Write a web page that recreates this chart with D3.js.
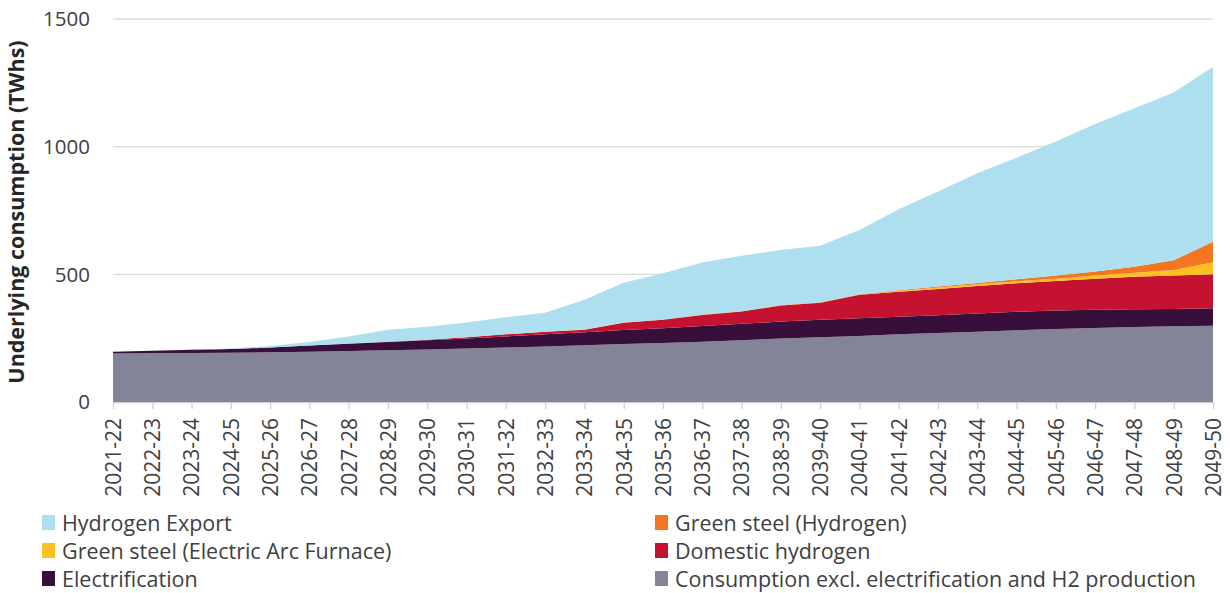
<!DOCTYPE html>
<html>
<head>
<meta charset="utf-8">
<script src="https://cdn.jsdelivr.net/npm/d3@7"></script>
<style>
  body { margin: 0; background: #fff; }
  text { font-family: "Open Sans", "Noto Sans", sans-serif; fill: #404040; }
</style>
</head>
<body>
<div class="container"></div>
<script>
// financial years on the x axis
var years = ["2021-22","2022-23","2023-24","2024-25","2025-26","2026-27","2027-28","2028-29","2029-30","2030-31",
             "2031-32","2032-33","2033-34","2034-35","2035-36","2036-37","2037-38","2038-39","2039-40","2040-41",
             "2041-42","2042-43","2043-44","2044-45","2045-46","2046-47","2047-48","2048-49","2049-50"];

// TWh
var baseCons      = [190,191,192,193,195,197,200,203,206,210,213,217,222,227,231,236,242,249,254,258,265,270,275,281,286,290,294,297,299];
var electrif      = [7,10,13,15,18,24,28,32,36,39,44,48,51,55,58,62,64,66,68,70,69,70,72,72,72,71,69,67,68];
var domesticH2    = [0,0,0,0,0,0.5,1,1,2,5,8,10,10,28,33,43,48,63,67,92,98,103,107,112,116,122,128,131,133];
var steelEAF      = [0,0,0,0,0,0,0,0,0,0,0,0,0.5,0.5,0.5,0.5,0.5,0.5,0.5,1,3,5,7,8,9,12,15,22,47];
var steelH2       = [0,0,0,0,0,0,0,0,0,0,0,0,0.5,1,1,1,1,1,1,1,3,4,5,8,12,16,24,38,81];
var h2Export      = [0,0,0,2,6,13,28,47,51,57,67,75,116,156,181,204,217,216,221,252,317,372,430,476,525,578,620,657,685];

var yTicks = [0, 500, 1000, 1500];

var keys = ["base","elec","dom","eaf","h2steel","export"];
var colors = {
  base: "#838498",
  elec: "#380e3b",
  dom: "#c41230",
  eaf: "#fdc020",
  h2steel: "#f37621",
  "export": "#addfee"
};
var legendItems = [
  {key:"export", label:"Hydrogen Export"},
  {key:"h2steel", label:"Green steel (Hydrogen)"},
  {key:"eaf", label:"Green steel (Electric Arc Furnace)"},
  {key:"dom", label:"Domestic hydrogen"},
  {key:"elec", label:"Electrification"},
  {key:"base", label:"Consumption excl. electrification and H2 production"}
];

var rows = years.map(function(y, i) {
  return {year: y, base: baseCons[i], elec: electrif[i], dom: domesticH2[i],
          eaf: steelEAF[i], h2steel: steelH2[i], "export": h2Export[i]};
});

var W = 1230, H = 593;
var plotLeft = 113, plotRight = 1213, plotTop = 19, plotBottom = 402;

var svg = d3.select(".container").append("svg")
  .attr("width", W).attr("height", H);

var x = d3.scalePoint().domain(years).range([plotLeft, plotRight]);
var y = d3.scaleLinear().domain([0, 1500]).range([plotBottom, plotTop]);

// gridlines
svg.append("g")
  .selectAll("line")
  .data(yTicks.filter(function(d){ return d > 0; }))
  .enter().append("line")
  .attr("x1", plotLeft).attr("x2", plotRight)
  .attr("y1", function(d){ return y(d); })
  .attr("y2", function(d){ return y(d); })
  .attr("stroke", "#d9d9d9")
  .attr("stroke-width", 1.3);

// x axis (drawn under the areas)
var xAxis = svg.append("g")
  .attr("transform", "translate(0," + plotBottom + ")")
  .call(d3.axisBottom(x).tickSizeOuter(0).tickSizeInner(7).tickPadding(8));
xAxis.select(".domain").attr("stroke", "#d0d0d0").attr("stroke-width", 1.3);
xAxis.selectAll(".tick line").attr("stroke", "#d0d0d0").attr("stroke-width", 1.3);
xAxis.selectAll(".tick text")
  .attr("transform", "rotate(-90)")
  .attr("text-anchor", "end")
  .attr("x", -16)
  .attr("y", 0)
  .attr("dy", "0.35em")
  .style("font-size", "21px")
  .style("font-family", "'Open Sans', sans-serif")
  .attr("fill", "#404040");

// stacked areas
var series = d3.stack().keys(keys)(rows);
var area = d3.area()
  .x(function(d){ return x(d.data.year); })
  .y0(function(d){ return y(d[0]); })
  .y1(function(d){ return y(d[1]); });

svg.append("g")
  .selectAll("path")
  .data(series)
  .enter().append("path")
  .attr("d", area)
  .attr("fill", function(d){ return colors[d.key]; });

// y axis labels
svg.append("g")
  .selectAll("text")
  .data(yTicks)
  .enter().append("text")
  .attr("x", 90)
  .attr("y", function(d){ return y(d); })
  .attr("dy", "0.35em")
  .attr("text-anchor", "end")
  .style("font-size", "20.5px")
  .text(function(d){ return d; });

// y title
svg.append("text")
  .attr("transform", "translate(24," + 212 + ") rotate(-90)")
  .attr("text-anchor", "middle")
  .style("font-size", "21.5px")
  .style("font-weight", "bold")
  .style("fill", "#262626")
  .text("Underlying consumption (TWhs)");

// legend
var leg = svg.append("g").selectAll("g")
  .data(legendItems)
  .enter().append("g")
  .attr("transform", function(d, i) {
    var col = i % 2, row = Math.floor(i / 2);
    return "translate(" + (col === 0 ? 42 : 655) + "," + (523 + row * 28) + ")";
  });
leg.append("rect")
  .attr("x", 0).attr("y", -8)
  .attr("width", 13).attr("height", 15)
  .attr("fill", function(d){ return colors[d.key]; });
leg.append("text")
  .attr("x", 20).attr("y", 0)
  .attr("dy", "0.35em")
  .style("font-size", "21.5px")
  .text(function(d){ return d.label; });
</script>
</body>
</html>
